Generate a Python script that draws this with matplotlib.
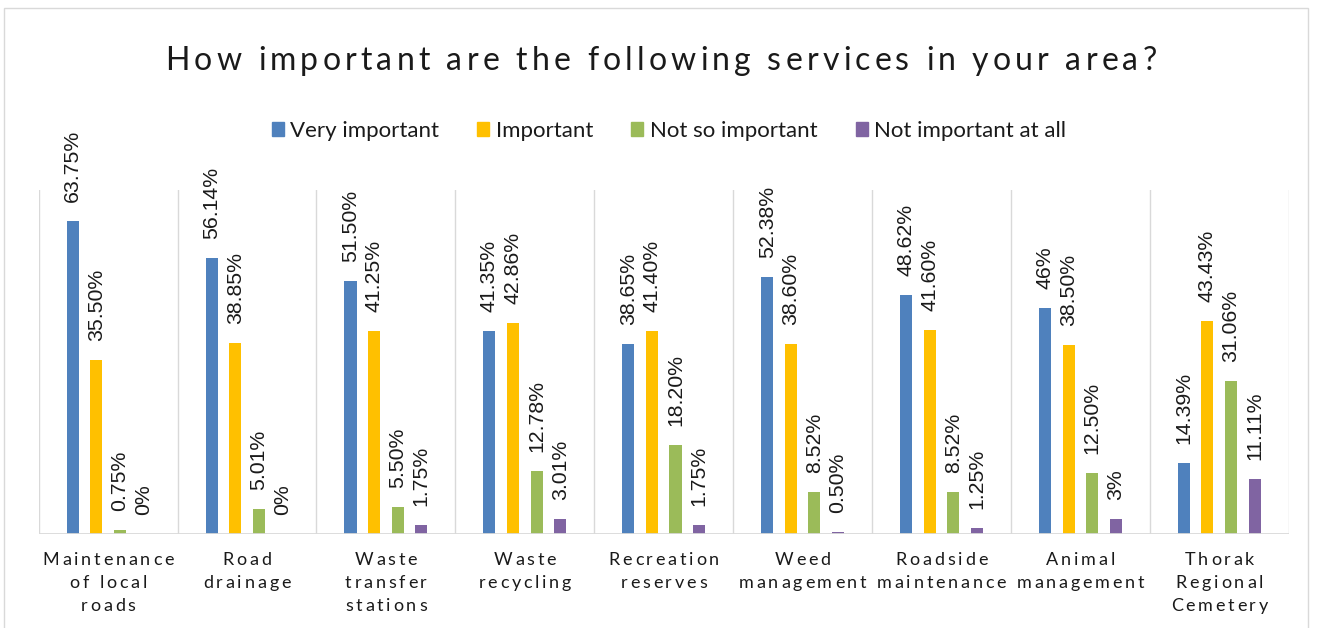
import numpy as np
import matplotlib
matplotlib.use('Agg')
import matplotlib.pyplot as plt
from matplotlib.patches import Patch, Rectangle
from matplotlib.font_manager import FontProperties, findfont
from matplotlib.ft2font import FT2Font
from matplotlib.transforms import IdentityTransform

title = "How important are the following services in your area?"
services = ["Maintenance\nof local\nroads", "Road\ndrainage", "Waste\ntransfer\nstations",
            "Waste\nrecycling", "Recreation\nreserves", "Weed\nmanagement",
            "Roadside\nmaintenance", "Animal\nmanagement", "Thorak\nRegional\nCemetery"]
series_names = ["Very important", "Important", "Not so important", "Not important at all"]

very_important = ["63.75%", "56.14%", "51.50%", "41.35%", "38.65%", "52.38%", "48.62%", "46%", "14.39%"]
important = ["35.50%", "38.85%", "41.25%", "42.86%", "41.40%", "38.60%", "41.60%", "38.50%", "43.43%"]
not_so_important = ["0.75%", "5.01%", "5.50%", "12.78%", "18.20%", "8.52%", "8.52%", "12.50%", "31.06%"]
not_at_all = ["0%", "0%", "1.75%", "3.01%", "1.75%", "0.50%", "1.25%", "3%", "11.11%"]

colors = ['#4F81BD', '#FFC000', '#9BBB59', '#8064A2']
text_col = '#1a1a1a'

W, H = 1323, 628
fig = plt.figure(figsize=(W / 100, H / 100), dpi=100)
ax = fig.add_axes([38.7 / W, 94 / H, 1250 / W, 344 / H])


def spaced(text, x, y, size, track, family='Lato', color=text_col):
    # letter-spaced text, x/y in pixels, x is the centre of the line
    prop = FontProperties(family=family, size=size)
    font = FT2Font(findfont(prop))
    font.set_size(size, 100)
    adv = [font.load_char(ord(ch)).linearHoriAdvance / 65536 + track for ch in text]
    x0 = x - (sum(adv) - track) / 2
    for ch, a in zip(text, adv):
        if ch != ' ':
            fig.text(x0, y, ch, fontproperties=prop, color=color,
                     transform=IdentityTransform(), ha='left', va='baseline')
        x0 += a


# bars
n = len(services)
idx = np.arange(n)
width = 0.087
step = 0.17
all_series = [very_important, important, not_so_important, not_at_all]
for k, labels in enumerate(all_series):
    vals = [float(s.rstrip('%')) for s in labels]
    xs = idx + (k - 1.5) * step
    ax.bar(xs, vals, width=width, color=colors[k], zorder=3)
    for xx, v, s in zip(xs, vals, labels):
        ax.annotate(s, (xx, v), xytext=(0, 13.7), textcoords='offset points',
                    rotation=90, ha='center', va='bottom', fontsize=15.3,
                    family='Liberation Sans', color=text_col)

ax.set_xlim(-0.5, n - 0.5)
ax.set_ylim(0, 70)
for g in np.arange(-0.5, n, 1.0):
    ax.axvline(g, color='#d9d9d9', lw=1, zorder=1)
ax.axhline(0, color='#d9d9d9', lw=2, zorder=4)
ax.set_xticks([])
ax.set_yticks([])
for sp in ax.spines.values():
    sp.set_visible(False)

# category names under the axis
baselines = [63, 40, 17]
for i, lab in enumerate(services):
    cx = ax.transData.transform((i, 0))[0]
    for j, line in enumerate(lab.split('\n')):
        spaced(line, cx, baselines[j], 13, 2.8)

spaced(title, 661, 558, 23, 4.2)

handles = [Patch(color=c) for c in colors]
fig.legend(handles, series_names, loc='center', bbox_to_anchor=(669 / W, 497 / H),
           ncol=4, frameon=False, handlelength=0.55, handleheight=0.55,
           handletextpad=0.3, columnspacing=1.7,
           prop=FontProperties(family='Lato', size=16), labelcolor=text_col)

fig.add_artist(Rectangle((4 / W, -0.05), 1304 / W, 620 / H + 0.05, transform=fig.transFigure,
                         fill=False, edgecolor='#d9d9d9', lw=1))

fig.savefig("out.png", dpi=100)
